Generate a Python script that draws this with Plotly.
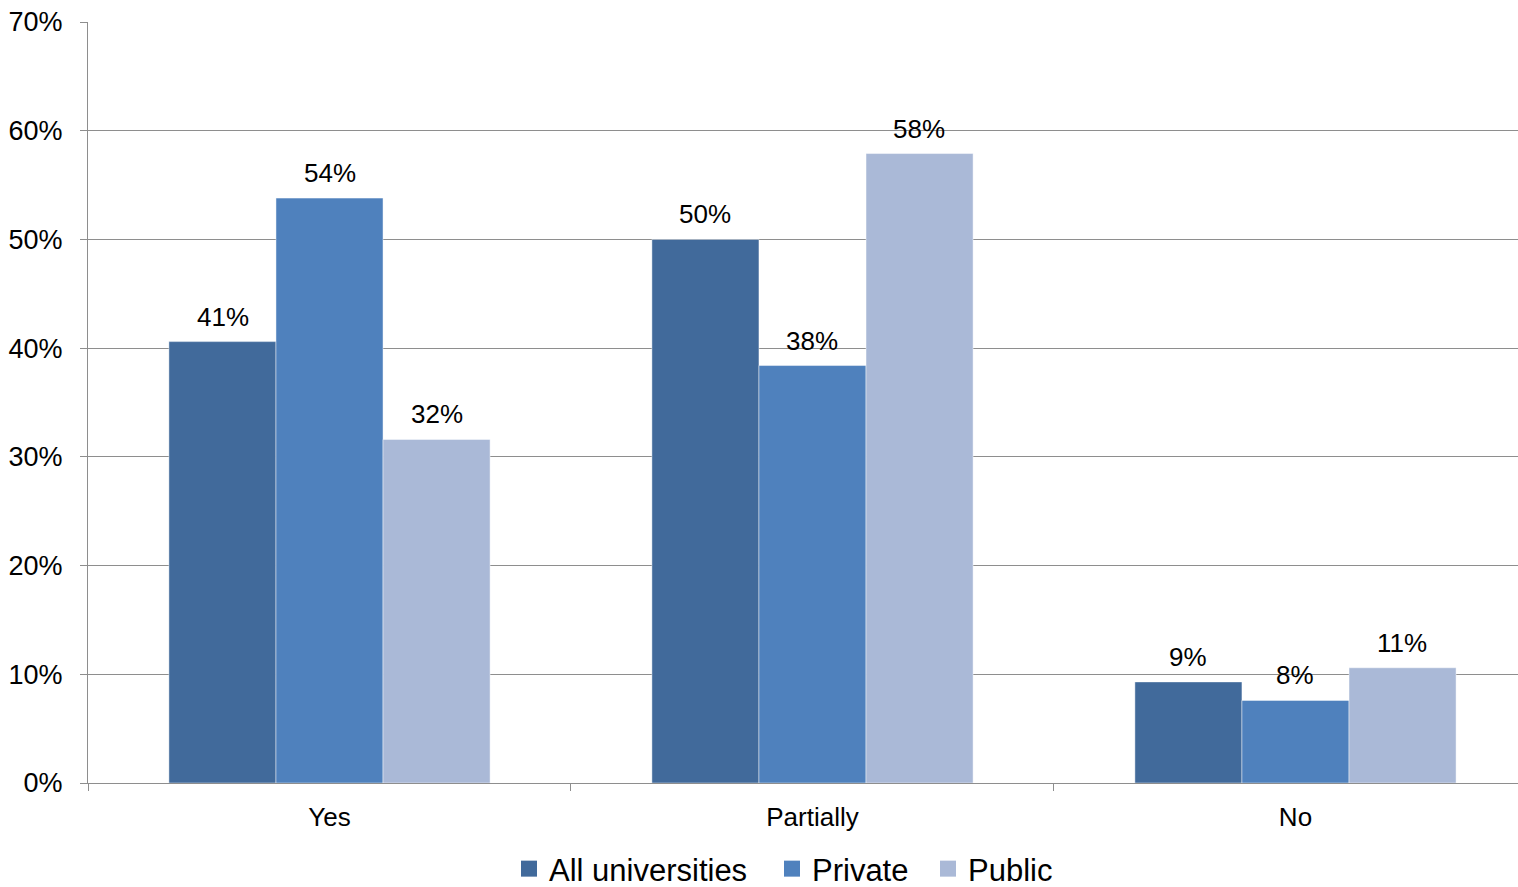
import plotly.graph_objects as go

categories = ["Yes", "Partially", "No"]
series_names = ["All universities", "Private", "Public"]
all_univ = [0.406, 0.500, 0.093]
private = [0.538, 0.384, 0.076]
public = [0.316, 0.579, 0.106]
y_ticks = [0, 0.1, 0.2, 0.3, 0.4, 0.5, 0.6, 0.7]

series_values = [all_univ, private, public]
colors = ["#416A9B", "#4F81BD", "#AAB9D7"]
legend_widths = [218, 111, 100]

GRID = "#8E8E8E"
FONT = "Liberation Sans, Arial, sans-serif"
BAR_PX = 107  # bar width in pixels (for label offsets)

fig = go.Figure()
for name, vals, col, lw in zip(series_names, series_values, colors, legend_widths):
    fig.add_trace(go.Bar(
        x=categories, y=vals, name=name, showlegend=False,
        marker=dict(color=col, line=dict(color="rgba(255,255,255,0.45)", width=1)),
        hoverinfo="x+y+name",
    ))
    # legend proxy
    fig.add_trace(go.Scatter(
        x=[None], y=[None], mode="markers", name=name, legendwidth=lw,
        marker=dict(symbol="square", size=16, color=col),
    ))

annotations = []
for i, vals in enumerate(series_values):
    for cat, v in zip(categories, vals):
        annotations.append(dict(
            x=cat, y=v, xref="x", yref="y",
            text=f"{round(v * 100):.0f}%", showarrow=False,
            xanchor="center", yanchor="bottom",
            xshift=(i - 1) * BAR_PX, yshift=8,
            font=dict(family=FONT, size=26, color="black"),
        ))

fig.update_layout(
    width=1518, height=887,
    margin=dict(l=88, r=0, t=22, b=104, autoexpand=False),
    paper_bgcolor="white", plot_bgcolor="white",
    barmode="group", bargap=0.335, bargroupgap=0,
    font=dict(family=FONT, size=26, color="black"),
    annotations=annotations,
    legend=dict(
        orientation="h", x=0.2944, xanchor="left",
        y=-0.113, yanchor="middle",
        font=dict(family=FONT, size=31, color="black"),
        itemsizing="trace", tracegroupgap=0,
    ),
    xaxis=dict(
        type="category", range=[-0.5, 2.4607], automargin=False,
        showline=True, linecolor=GRID, linewidth=1,
        ticks="outside", tickson="boundaries", ticklen=7, tickcolor=GRID,
        showgrid=False, tickfont=dict(family=FONT, size=26, color="black"),
        ticklabelstandoff=11,
    ),
    yaxis=dict(
        range=[0, 0.7], tickvals=y_ticks, tickformat=".0%", automargin=False,
        showline=True, linecolor=GRID, linewidth=1,
        ticks="outside", ticklen=7, tickcolor=GRID,
        showgrid=True, gridcolor=GRID, gridwidth=1,
        zeroline=False, ticklabeloverflow="allow",
        tickfont=dict(family=FONT, size=27, color="black"),
        ticklabelstandoff=12,
    ),
)

# remove the default 8px page margin so the figure fills the window exactly
fig.write_html(
    "out.html",
    config={"displayModeBar": False},
    post_script="document.body.style.margin='0';document.body.style.overflow='hidden';",
)
